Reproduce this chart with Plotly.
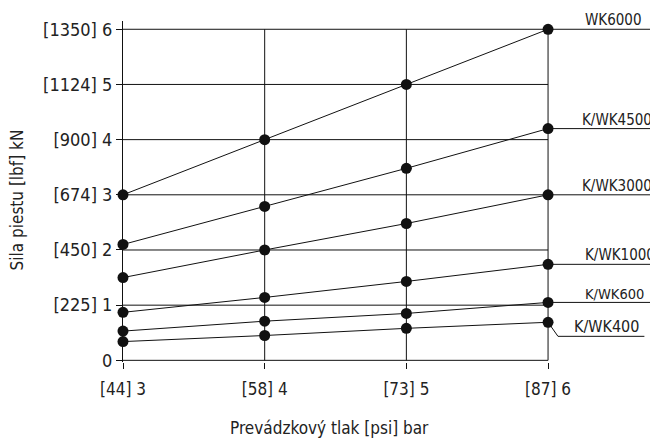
import plotly.graph_objects as go

pressure_bar = [3, 4, 5, 6]
x_tick_labels = ["[44] 3", "[58] 4", "[73] 5", "[87] 6"]
force_ticks = [0, 1, 2, 3, 4, 5, 6]
y_tick_labels = ["0", "[225] 1", "[450] 2", "[674] 3", "[900] 4", "[1124] 5", "[1350] 6"]

series_names = ["WK6000", "K/WK4500", "K/WK3000", "K/WK1000", "K/WK600", "K/WK400"]
wk6000 = [3.0, 4.0, 5.0, 6.0]
kwk4500 = [2.1, 2.79, 3.48, 4.2]
kwk3000 = [1.5, 2.0, 2.48, 3.0]
kwk1000 = [0.87, 1.14, 1.43, 1.74]
kwk600 = [0.53, 0.71, 0.85, 1.05]
kwk400 = [0.34, 0.45, 0.58, 0.69]
series_values = [wk6000, kwk4500, kwk3000, kwk1000, kwk600, kwk400]

FONT = "DejaVu Sans Condensed, DejaVu Sans, sans-serif"
TXT = "#222222"
LINE = "#111111"

fig = go.Figure()
for name, vals in zip(series_names, series_values):
    fig.add_trace(go.Scatter(
        x=pressure_bar, y=vals, mode="lines+markers", name=name,
        line=dict(color=LINE, width=1),
        marker=dict(color=LINE, size=11),
        cliponaxis=False, showlegend=False,
    ))

shapes = []
for v in force_ticks:
    shapes.append(dict(type="line", xref="x", yref="y", x0=pressure_bar[0], x1=pressure_bar[-1],
                       y0=v, y1=v, line=dict(color=LINE, width=1), layer="below"))
for p in pressure_bar[1:]:
    shapes.append(dict(type="line", xref="x", yref="y", x0=p, x1=p,
                       y0=force_ticks[0], y1=force_ticks[-1], line=dict(color=LINE, width=1), layer="below"))

x_end = pressure_bar[-1]
label_style = {
    "WK6000": dict(end=6.76, tx=6.247, drop=0.0, size=15),
    "K/WK4500": dict(end=6.73, tx=6.226, drop=0.0, size=15),
    "K/WK3000": dict(end=6.73, tx=6.226, drop=0.0, size=15),
    "K/WK1000": dict(end=6.76, tx=6.247, drop=0.0, size=15),
    "K/WK600": dict(end=6.76, tx=6.247, drop=0.0, size=14.5),
    "K/WK400": dict(end=6.68, tx=6.169, drop=0.255, size=16),
}
annotations = []
for name, vals in zip(series_names, series_values):
    st = label_style[name]
    y_last = vals[-1]
    y_line = y_last - st["drop"]
    if st["drop"] > 0:
        shapes.append(dict(type="path", xref="x", yref="y",
                           path=f"M {x_end},{y_last} L {x_end + 0.07},{y_line} L {st['end']},{y_line}",
                           line=dict(color=LINE, width=1)))
    else:
        shapes.append(dict(type="line", xref="x", yref="y", x0=x_end, x1=st["end"],
                           y0=y_line, y1=y_line, line=dict(color=LINE, width=1)))
    annotations.append(dict(x=st["tx"], y=y_line, xref="x", yref="y", text=name,
                            showarrow=False, xanchor="left", yanchor="bottom", yshift=-2,
                            font=dict(family=FONT, size=st["size"], color=TXT)))

# axis titles
annotations.append(dict(x=4.46, y=-0.194, xref="x", yref="paper", text="Prevádzkový tlak [psi] bar",
                        showarrow=False, xanchor="center", yanchor="middle",
                        font=dict(family=FONT, size=17, color=TXT)))
annotations.append(dict(x=-0.198, y=0.474, xref="paper", yref="paper", text="Sila piestu [lbf] kN",
                        showarrow=False, xanchor="center", yanchor="middle", textangle=-90,
                        font=dict(family=FONT, size=17, color=TXT)))

# page body has an 8px margin; figure is sized/offset to land on the 658x448 window
fig.update_layout(
    width=650, height=440,
    margin=dict(l=115, r=0, t=13, b=86),
    paper_bgcolor="white", plot_bgcolor="white",
    shapes=shapes, annotations=annotations,
    font=dict(family=FONT, color=TXT),
    xaxis=dict(
        range=[3, 6.776], tickvals=pressure_bar, ticktext=x_tick_labels,
        showgrid=False, zeroline=False, showline=False, automargin=False,
        ticks="outside", ticklen=6, tickcolor=LINE, tickwidth=1,
        ticklabelstandoff=6,
        tickfont=dict(family=FONT, size=17, color=TXT),
    ),
    yaxis=dict(
        range=[-0.03, 6.15], tickvals=force_ticks, ticktext=y_tick_labels,
        showgrid=False, zeroline=False, showline=True, linecolor=LINE, linewidth=1, automargin=False,
        ticks="outside", ticklen=6, tickcolor=LINE, tickwidth=1,
        tickfont=dict(family=FONT, size=18, color=TXT),
    ),
)

fig.write_html("out.html")
